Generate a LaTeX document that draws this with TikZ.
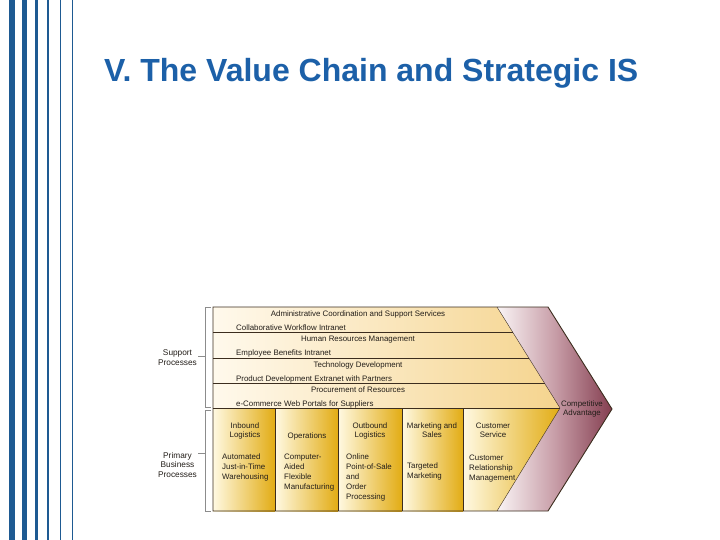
\documentclass[tikz,border=0pt]{standalone}
\usepackage{fontspec}
\setmainfont{Liberation Sans}
\definecolor{stripe}{RGB}{30,90,146}
\definecolor{titleblue}{RGB}{28,96,168}
\definecolor{supL}{RGB}{255,249,236}
\definecolor{supR}{RGB}{245,212,142}
\definecolor{colL}{RGB}{255,249,226}
\definecolor{colR}{RGB}{226,172,20}
\definecolor{marL}{RGB}{250,245,246}
\definecolor{marM}{RGB}{200,158,168}
\definecolor{marR}{RGB}{132,62,80}
\definecolor{edgec}{RGB}{60,45,30}
\definecolor{txt}{RGB}{35,30,25}
\definecolor{brk}{RGB}{140,140,140}
\begin{document}
\begin{tikzpicture}[x=1pt,y=-1pt,
  lbl/.style={font=\fontsize{7.9}{9.6}\selectfont, text=txt, inner sep=0pt},
  low/.style={font=\fontsize{7.9}{10}\selectfont, text=txt, inner sep=0pt, align=left, anchor=north west},
  head/.style={font=\fontsize{7.9}{9.4}\selectfont, text=txt, inner sep=0pt, align=center, anchor=north},
  side/.style={font=\fontsize{8.3}{9.5}\selectfont, text=txt, inner sep=0pt, align=center, anchor=north},
  edgeline/.style={draw=edgec, line width=0.6pt},
  brkline/.style={draw=brk, line width=0.6pt}]
\useasboundingbox (0,0) rectangle (720,540);
% left stripes
\fill[stripe] (9,0) rectangle (15,540);
\fill[stripe] (22,0) rectangle (27,540);
\fill[stripe] (35,0) rectangle (38,540);
\fill[stripe] (47,0) rectangle (49.3,540);
\fill[stripe] (60,0) rectangle (61.3,540);
\fill[stripe] (72,0) rectangle (73,540);
% title
\node[anchor=base west, inner sep=0pt, text=titleblue, font=\fontsize{32}{36}\selectfont\bfseries] (title) at (104,82) {V. The Value Chain and Strategic IS};
% support area
\shade[left color=supL, right color=supR] (213,307) -- (497,307) -- (560,408) -- (213,408) -- cycle;
% competitive advantage chevron
\shade[left color=marL, right color=marR, middle color=marM] (497,307) -- (548,307) -- (612,409) -- (548,511) -- (497,511) -- (560,408) -- cycle;
% primary columns
\shade[left color=colL, right color=colR] (213,408) rectangle (275,511);
\shade[left color=colL, right color=colR] (275,408) rectangle (338,511);
\shade[left color=colL, right color=colR] (338,408) rectangle (402,511);
\shade[left color=colL, right color=colR] (402,408) rectangle (463,511);
\shade[left color=colL, right color=colR] (463,408) -- (560,408) -- (497,511) -- (463,511) -- cycle;
% lines
\draw[edgeline, line width=0.4pt] (497,307) -- (560,408) -- (497,511);
\draw[edgeline] (213,332.5) -- (513,332.5);
\draw[edgeline] (213,358) -- (528.8,358);
\draw[edgeline] (213,383.5) -- (544.7,383.5);
\draw[edgeline] (213,408) -- (560,408);
\draw[edgeline] (275,408) -- (275,511);
\draw[edgeline] (338,408) -- (338,511);
\draw[edgeline] (402,408) -- (402,511);
\draw[edgeline] (463,408) -- (463,511);
\draw[edgeline, line width=0.9pt, line join=miter] (213,307) -- (548,307) -- (612,409) -- (548,511) -- (213,511) -- cycle;
% support texts
\node[lbl, anchor=base] (adm) at (358,316) {Administrative Coordination and Support Services};
\node[lbl, anchor=base west] (cwi) at (236,330) {Collaborative Workflow Intranet};
\node[lbl, anchor=base] (hrm) at (358,341) {Human Resources Management};
\node[lbl, anchor=base west] (ebi) at (236,355) {Employee Benefits Intranet};
\node[lbl, anchor=base] (tdv) at (358,367) {Technology Development};
\node[lbl, anchor=base west] (pde) at (236,381) {Product Development Extranet with Partners};
\node[lbl, anchor=base] (pro) at (358,392) {Procurement of Resources};
\node[lbl, anchor=base west] (ecw) at (236,406) {e-Commerce Web Portals for Suppliers};
% column headers
\node[head] (inb) at (245,422.3) {Inbound\\Logistics};
\node[lbl, anchor=base] (ope) at (307,438) {Operations};
\node[head] (outb) at (370,422.3) {Outbound\\Logistics};
\node[head] (mks) at (432,422.3) {Marketing and\\Sales};
\node[head] (cse) at (493,422.3) {Customer\\Service};
% column contents
\node[low] (aut) at (222,453.3) {Automated\\Just-in-Time\\Warehousing};
\node[low] (cad) at (284,453.3) {Computer-\\Aided\\Flexible\\Manufacturing};
\node[low] (onl) at (346,453.3) {Online\\Point-of-Sale\\and\\Order\\Processing};
\node[low] (tgm) at (407,462.3) {Targeted\\Marketing};
\node[low] (crm) at (469,454.3) {Customer\\Relationship\\Management};
% competitive advantage
\node[head] (cadv) at (582,400.3) {Competitive\\Advantage};
% side labels
\node[side] (sup) at (177.5,350) {Support\\Processes};
\node[side] (pri) at (177.5,452) {Primary\\Business\\Processes};
% brackets
\draw[brkline] (211,307) -- (205,307) -- (205,407) -- (211,407);
\draw[brkline] (211,410) -- (205,410) -- (205,511) -- (211,511);
\coordinate (sdA) at (198,356);
\coordinate (sdB) at (205,356);
\coordinate (pdA) at (198,453);
\coordinate (pdB) at (205,453);
\draw[brkline] (sdA) -- (sdB);
\draw[brkline] (pdA) -- (pdB);
\end{tikzpicture}
\end{document}
